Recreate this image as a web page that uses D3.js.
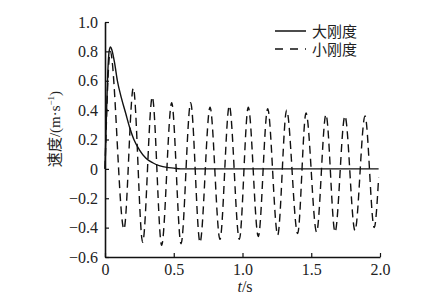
<!DOCTYPE html>
<html>
<head>
<meta charset="utf-8">
<script src="https://cdn.jsdelivr.net/npm/d3@7"></script>
<style>
  body { margin: 0; background: #fff; }
  svg text { fill: #222; }
</style>
</head>
<body>
<div id="main"></div>
<script>
// series: large stiffness (solid)
const stiffT = [0, 0.01, 0.02, 0.03, 0.04, 0.05, 0.07, 0.09, 0.12, 0.15, 0.18, 0.21, 0.25, 0.3, 0.35, 0.4, 0.45, 0.5, 0.55, 1.99];
const stiffV = [0, 0.35, 0.65, 0.8, 0.83, 0.81, 0.72, 0.6, 0.48, 0.38, 0.28, 0.2, 0.13, 0.07, 0.04, 0.02, 0.01, 0.005, 0, 0];

// series: small stiffness (dashed), read at peaks and troughs
const softT = [0, 0.038, 0.138, 0.206, 0.274, 0.344, 0.412, 0.485, 0.553, 0.623, 0.691, 0.764, 0.836, 0.904, 0.977, 1.042, 1.115, 1.183, 1.256, 1.321, 1.401, 1.462, 1.539, 1.607, 1.673, 1.745, 1.818, 1.891, 1.958, 1.99];
const softV = [0, 0.8, -0.41, 0.55, -0.50, 0.49, -0.52, 0.45, -0.51, 0.45, -0.50, 0.42, -0.48, 0.43, -0.48, 0.42, -0.46, 0.41, -0.45, 0.40, -0.44, 0.38, -0.43, 0.37, -0.43, 0.36, -0.42, 0.36, -0.40, -0.06];

const xTicks = [0, 0.5, 1.0, 1.5, 2.0];
const yTicks = [-0.6, -0.4, -0.2, 0, 0.2, 0.4, 0.6, 0.8, 1.0];
const seriesNames = ['大刚度', '小刚度'];

const width = 443, height = 296;
const plotLeft = 105, plotRight = 380, plotTop = 22, plotBottom = 257;

const svg = d3.select('#main').append('svg')
    .attr('width', width)
    .attr('height', height);

const x = d3.scaleLinear().domain([0, 2]).range([plotLeft, plotRight]);
const y = d3.scaleLinear().domain([-0.6, 1.0]).range([plotBottom, plotTop]);

const fmt = (d) => {
    if (d === 0) return '0';
    return (d < 0 ? '\u2212' : '') + Math.abs(d).toFixed(1);
};

const xAxis = svg.append('g')
    .attr('transform', `translate(0, ${plotBottom})`)
    .call(d3.axisBottom(x).tickValues(xTicks).tickSizeInner(-4).tickSizeOuter(0).tickPadding(7).tickFormat(fmt));
const yAxis = svg.append('g')
    .attr('transform', `translate(${plotLeft}, 0)`)
    .call(d3.axisLeft(y).tickValues(yTicks).tickSizeInner(-4).tickSizeOuter(0).tickPadding(7).tickFormat(fmt));

[xAxis, yAxis].forEach((g) => {
    g.select('.domain').attr('stroke', '#111').attr('stroke-width', 1.6);
    g.selectAll('.tick line').attr('stroke', '#111').attr('stroke-width', 1.2);
    g.selectAll('.tick text')
        .attr('font-family', '"Liberation Serif", serif')
        .attr('font-size', 16)
        .attr('fill', '#222');
});

const line = d3.line()
    .x((d) => x(d[0]))
    .y((d) => y(d[1]))
    .curve(d3.curveMonotoneX);

const stiff = stiffT.map((t, i) => [t, stiffV[i]]);
const soft = softT.map((t, i) => [t, softV[i]]);

svg.append('path')
    .attr('fill', 'none')
    .attr('stroke', '#111')
    .attr('stroke-width', 1.4)
    .attr('stroke-dasharray', '8,5')
    .attr('d', line(soft));

svg.append('path')
    .attr('fill', 'none')
    .attr('stroke', '#111')
    .attr('stroke-width', 1.4)
    .attr('d', line(stiff));

// legend
const legend = svg.append('g');
seriesNames.forEach((name, i) => {
    const ly = 31 + i * 18;
    legend.append('line')
        .attr('x1', 275).attr('x2', 306)
        .attr('y1', ly).attr('y2', ly)
        .attr('stroke', '#111')
        .attr('stroke-width', 1.5)
        .attr('stroke-dasharray', i === 1 ? '8,7' : null);
    legend.append('text')
        .attr('x', 312).attr('y', ly + 6)
        .attr('font-family', '"Noto Sans CJK SC", sans-serif')
        .attr('font-size', 15)
        .text(name);
});

// axis titles
const yl = svg.append('text')
    .attr('transform', 'translate(60, 129) rotate(-90)')
    .attr('text-anchor', 'middle')
    .attr('font-size', 15);
yl.append('tspan').attr('font-family', '"Noto Sans CJK SC", sans-serif').text('速度');
yl.append('tspan').attr('font-family', '"Liberation Serif", serif').text('/(m·s');
yl.append('tspan').attr('font-family', '"Liberation Serif", serif').attr('font-size', 9).attr('dy', -6).text('−1');
yl.append('tspan').attr('font-family', '"Liberation Serif", serif').attr('dy', 6).text(')');

const xl = svg.append('text')
    .attr('x', 245).attr('y', 292)
    .attr('text-anchor', 'middle')
    .attr('font-family', '"Liberation Serif", serif')
    .attr('font-size', 16);
xl.append('tspan').attr('font-style', 'italic').text('t');
xl.append('tspan').text('/s');
</script>
</body>
</html>
